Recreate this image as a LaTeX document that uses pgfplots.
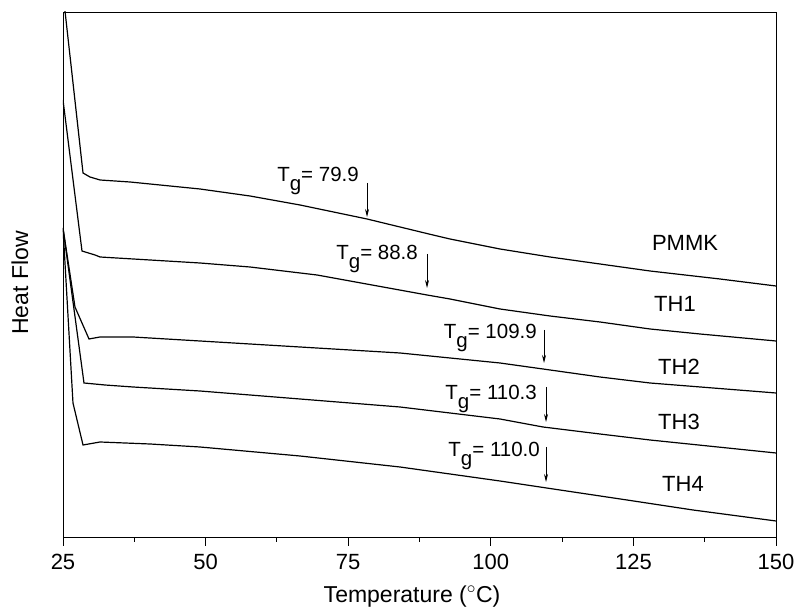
\documentclass[border=0pt]{standalone}
\usepackage{pgfplots}
\pgfplotsset{compat=1.18}
\usepackage{fontspec}
\setmainfont{Liberation Sans}
\usetikzlibrary{arrows.meta,calc}
\newcommand{\Tg}[1]{T\raisebox{-0.42em}{g}= #1}
\begin{document}
\begin{tikzpicture}
\begin{axis}[
  scale only axis,
  width=713pt, height=525pt,
  xmin=25, xmax=150, ymin=-537, ymax=-12,
  xtick={25,50,75,100,125,150},
  minor x tick num=1,
  ytick=\empty,
  xtick pos=left,
  tick align=outside,
  major tick length=9pt,
  minor tick length=5pt,
  axis line style={line width=0.9pt},
  every tick/.style={line width=0.9pt, black},
  /pgf/number format/assume math mode=true,
  ticklabel style={font=\fontsize{22}{26}\selectfont},
  xticklabel style={yshift=-5pt},
  xlabel={Temperature ($^{\circ}$C)},
  ylabel={Heat Flow},
  label style={font=\fontsize{23}{27}\selectfont},
  xlabel style={at={(axis description cs:0.4895,-0.114)}, anchor=center},
  ylabel style={at={(axis description cs:-0.0603,0.484)}, anchor=center},
  clip=true,
]
% PMMK
\addplot[black, line width=1.2pt] coordinates {
(25,7) (28.51,-173) (29.73,-177) (31.49,-180) (36.75,-182) (49.02,-189)
(57.78,-196) (66.55,-205) (78.30,-219) (84.08,-227) (89.87,-235) (92.85,-239)
(101.61,-249) (110.38,-257) (119.14,-264) (127.91,-271) (140.18,-279) (150,-286)};
% TH1
\addplot[black, line width=1.2pt] coordinates {
(25,-100) (28.33,-251) (30.61,-255) (31.49,-257) (49.02,-263) (57.78,-267)
(69.53,-275) (81.10,-287) (88.82,-295) (92.85,-299) (101.61,-309) (110.38,-316)
(119.14,-322) (127.91,-329) (136.68,-334) (150,-341)};
% TH2
\addplot[black, line width=1.2pt] coordinates {
(25,-228) (27.10,-307) (29.56,-339) (31.49,-337) (37.27,-337) (49.02,-341)
(66.55,-347) (84.08,-353) (101.61,-363) (109.15,-369) (119.14,-377)
(127.91,-383) (150,-393)};
% TH3
\addplot[black, line width=1.2pt] coordinates {
(25,-228) (28.68,-383) (32.36,-385) (37.27,-387) (49.02,-391) (66.55,-399)
(84.08,-407) (101.61,-419) (109.15,-427) (119.14,-434) (127.91,-440) (150,-453)};
% TH4
\addplot[black, line width=1.2pt] coordinates {
(25,-228) (26.75,-403) (28.51,-445) (31.49,-442) (40.25,-444) (49.02,-447)
(66.55,-456) (84.08,-467) (101.61,-481) (112.13,-490) (123.88,-500)
(135.45,-510) (150,-521)};
% arrows
\addplot[black, line width=0.8pt, -{Stealth[length=8pt,width=4pt]}] coordinates {(78.30,-183) (78.30,-217)};
\addplot[black, line width=0.8pt, -{Stealth[length=8pt,width=4pt]}] coordinates {(88.82,-254) (88.82,-288)};
\addplot[black, line width=0.8pt, -{Stealth[length=8pt,width=4pt]}] coordinates {(109.33,-330) (109.33,-363)};
\addplot[black, line width=0.8pt, -{Stealth[length=8pt,width=4pt]}] coordinates {(109.68,-387) (109.68,-422)};
\addplot[black, line width=0.8pt, -{Stealth[length=8pt,width=4pt]}] coordinates {(109.68,-447) (109.68,-482)};
% Tg labels
\node[anchor=base east, inner sep=0pt, font=\fontsize{20.5}{24}\selectfont] at (axis cs:76.89,-182) {\Tg{79.9}};
\node[anchor=base east, inner sep=0pt, font=\fontsize{20.5}{24}\selectfont] at (axis cs:87.24,-260) {\Tg{88.8}};
\node[anchor=base east, inner sep=0pt, font=\fontsize{20.5}{24}\selectfont] at (axis cs:108.10,-339) {\Tg{109.9}};
\node[anchor=base east, inner sep=0pt, font=\fontsize{20.5}{24}\selectfont] at (axis cs:108.10,-400) {\Tg{110.3}};
\node[anchor=base east, inner sep=0pt, font=\fontsize{20.5}{24}\selectfont] at (axis cs:108.63,-457) {\Tg{110.0}};
% curve labels
\node[anchor=center, inner sep=0pt, font=\fontsize{22}{26}\selectfont] at (axis cs:134.05,-243) {PMMK};
\node[anchor=center, inner sep=0pt, font=\fontsize{22}{26}\selectfont] at (axis cs:132.29,-304) {TH1};
\node[anchor=center, inner sep=0pt, font=\fontsize{22}{26}\selectfont] at (axis cs:132.99,-367) {TH2};
\node[anchor=center, inner sep=0pt, font=\fontsize{22}{26}\selectfont] at (axis cs:132.99,-422) {TH3};
\node[anchor=center, inner sep=0pt, font=\fontsize{22}{26}\selectfont] at (axis cs:133.70,-484) {TH4};
\end{axis}
\pgfresetboundingbox
\path ($(current axis.south west)+(-63pt,-75pt)$) rectangle ($(current axis.north east)+(20pt,12pt)$);
\end{tikzpicture}
\end{document}
